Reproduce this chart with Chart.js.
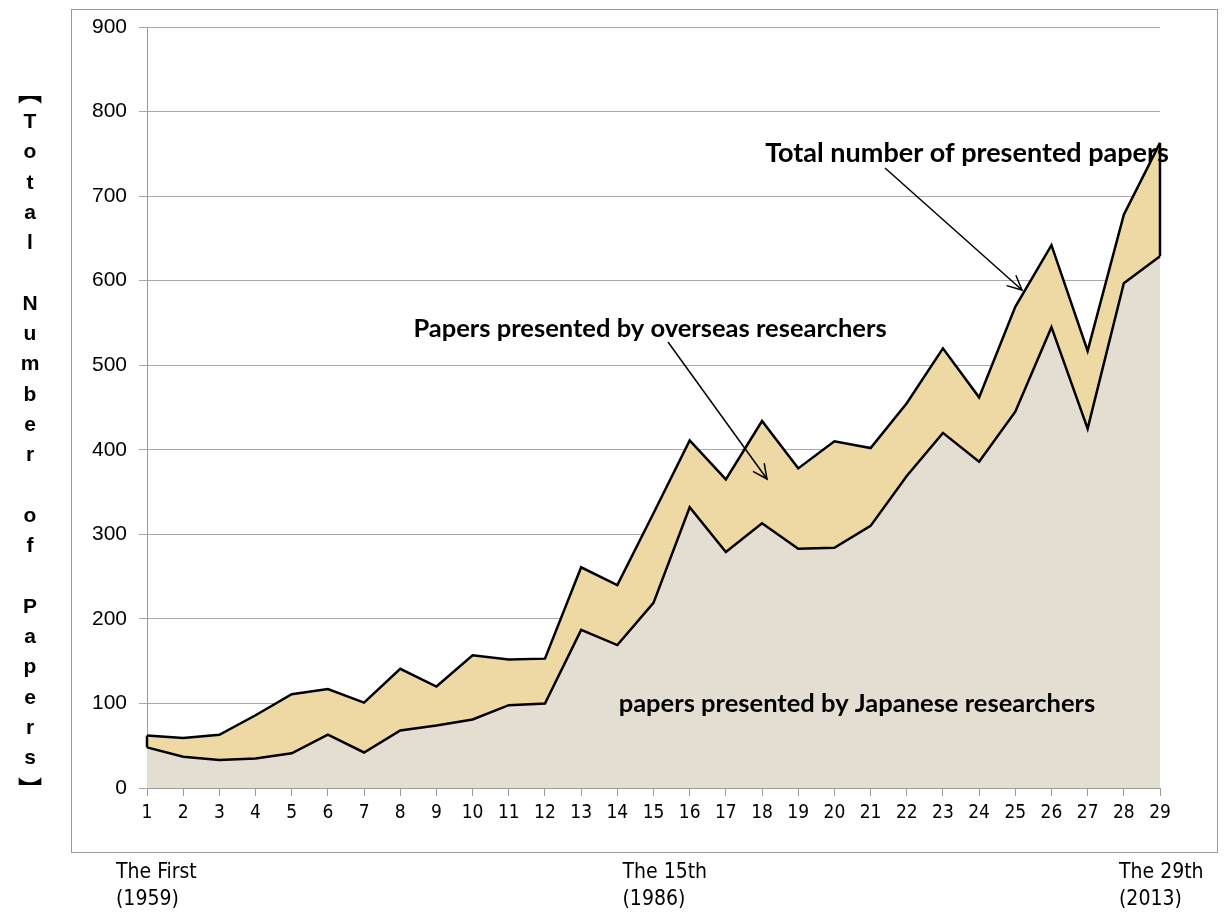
<!DOCTYPE html>
<html>
<head>
<meta charset="utf-8">
<script src="https://cdn.jsdelivr.net/npm/chart.js@4.4.1/dist/chart.umd.min.js"></script>
<style>
  html, body { margin: 0; padding: 0; background: #fff; }
  #wrap { position: relative; width: 1226px; height: 915px; }
</style>
</head>
<body>
<div id="wrap"><canvas id="chart" width="1226" height="915"></canvas></div>
<script>
// session numbers 1..29
const sessions = ['1','2','3','4','5','6','7','8','9','10','11','12','13','14','15','16','17','18','19','20','21','22','23','24','25','26','27','28','29'];
// papers presented by Japanese researchers
const japanese = [48, 37, 33, 35, 41, 63, 42, 68, 74, 81, 98, 100, 187, 169, 219, 332, 279, 313, 283, 284, 310, 369, 420, 386, 445, 545, 425, 597, 629];
// total number of presented papers
const total = [62, 59, 63, 86, 111, 117, 101, 141, 120, 157, 152, 153, 261, 240, 325, 411, 365, 434, 378, 410, 402, 455, 520, 462, 569, 642, 517, 678, 763];
const yTicks = [0, 100, 200, 300, 400, 500, 600, 700, 800, 900];
const bottomNotes = [
  { at: 0, lines: ['The First', '(1959)'] },
  { at: 14, lines: ['The 15th', '(1986)'] },
  { at: 28, lines: ['The 29th', '(2013)'] }
];
const yTitle = ['︻','T','o','t','a','l',' ','N','u','m','b','e','r',' ','o','f',' ','P','a','p','e','r','s','︼'];

const chartBox = { left: 71, top: 9, right: 1217, bottom: 852 };
const narrow = '"DejaVu Sans Condensed", "Liberation Sans Narrow", "Liberation Sans", sans-serif';

// draws the frame, side title, notes and arrows
const decorations = {
  id: 'decorations',
  beforeDraw(chart) {
    const ctx = chart.ctx;
    ctx.save();
    ctx.fillStyle = '#fff';
    ctx.fillRect(0, 0, chart.width, chart.height);
    ctx.strokeStyle = '#9a9a9a';
    ctx.lineWidth = 1;
    ctx.strokeRect(chartBox.left + 0.5, chartBox.top + 0.5, chartBox.right - chartBox.left, chartBox.bottom - chartBox.top);
    ctx.restore();
  },
  afterDatasetsDraw(chart) {
    const ctx = chart.ctx;
    const x = chart.scales.x, y = chart.scales.y;
    ctx.save();
    // closing edges of the overseas band
    ctx.strokeStyle = '#000';
    ctx.lineWidth = 2.5;
    [0, sessions.length - 1].forEach(i => {
      ctx.beginPath();
      ctx.moveTo(x.getPixelForValue(i), y.getPixelForValue(japanese[i]));
      ctx.lineTo(x.getPixelForValue(i), y.getPixelForValue(total[i]));
      ctx.stroke();
    });

    // arrows
    const arrow = (x1, y1, x2, y2) => {
      ctx.strokeStyle = '#000';
      ctx.lineWidth = 1.5;
      ctx.beginPath();
      ctx.moveTo(x1, y1);
      ctx.lineTo(x2, y2);
      ctx.stroke();
      const a = Math.atan2(y2 - y1, x2 - x1);
      const len = 16;
      ctx.beginPath();
      ctx.moveTo(x2 - len * Math.cos(a - 0.45), y2 - len * Math.sin(a - 0.45));
      ctx.lineTo(x2, y2);
      ctx.lineTo(x2 - len * Math.cos(a + 0.45), y2 - len * Math.sin(a + 0.45));
      ctx.stroke();
    };
    arrow(885, 168, 1022, 290);
    arrow(668, 342, 767, 479);

    ctx.fillStyle = '#000';
    ctx.textAlign = 'center';
    ctx.textBaseline = 'middle';
    ctx.font = 'bold 27px Lato, "Open Sans", sans-serif';
    ctx.fillText('Total number of presented papers', 967, 153);
    ctx.font = 'bold 25.5px Lato, "Open Sans", sans-serif';
    ctx.fillText('Papers presented by overseas researchers', 650, 329);
    ctx.fillText('papers presented by Japanese researchers', 857, 704);

    // vertical axis title, one letter per line
    yTitle.forEach((ch, i) => {
      if (ch === '︻' || ch === '︼') ctx.font = 'bold 24px "Noto Sans CJK JP", sans-serif';
      else ctx.font = 'bold 21px "Liberation Sans", Arial, sans-serif';
      ctx.fillText(ch, 30, 92 + i * 30.3);
    });

    // notes below the frame
    ctx.font = '21px ' + narrow;
    ctx.textAlign = 'left';
    ctx.textBaseline = 'alphabetic';
    bottomNotes.forEach((n, k) => {
      const px = x.getPixelForValue(n.at) - (k === 2 ? 41 : 31);
      ctx.fillText(n.lines[0], px, 878);
      ctx.fillText(n.lines[1], px, 905);
    });
    ctx.restore();
  }
};

new Chart(document.getElementById('chart'), {
  type: 'line',
  data: {
    labels: sessions,
    datasets: [
      {
        label: 'papers presented by Japanese researchers',
        data: japanese,
        borderColor: '#000',
        borderWidth: 2.5,
        backgroundColor: '#e4ddd1',
        fill: 'origin',
        pointRadius: 0,
        tension: 0
      },
      {
        label: 'Total number of presented papers',
        data: total,
        borderColor: '#000',
        borderWidth: 2.5,
        backgroundColor: '#eed9a5',
        fill: '-1',
        pointRadius: 0,
        tension: 0
      }
    ]
  },
  options: {
    responsive: false,
    animation: false,
    layout: { padding: { left: 71, top: 27, right: 66, bottom: 63 } },
    plugins: {
      legend: { display: false },
      tooltip: { enabled: false },
      filler: { propagate: false }
    },
    scales: {
      x: {
        offset: false,
        grid: { drawOnChartArea: false, color: '#9a9a9a', tickLength: 8 },
        border: { color: '#9a9a9a' },
        ticks: {
          color: '#000',
          font: { family: narrow, size: 19 },
          autoSkip: false,
          maxRotation: 0,
          padding: 6
        },
        afterFit(scale) { scale.height = 64; }
      },
      y: {
        min: 0,
        max: 900,
        afterBuildTicks(scale) { scale.ticks = yTicks.map(v => ({ value: v })); },
        grid: { color: '#a8a8a8', tickLength: 8 },
        border: { color: '#9a9a9a' },
        ticks: {
          color: '#000',
          font: { family: '"Liberation Sans", Arial, sans-serif', size: 21 },
          padding: 12
        },
        afterFit(scale) { scale.width = 76; }
      }
    }
  },
  plugins: [decorations]
});
</script>
</body>
</html>
